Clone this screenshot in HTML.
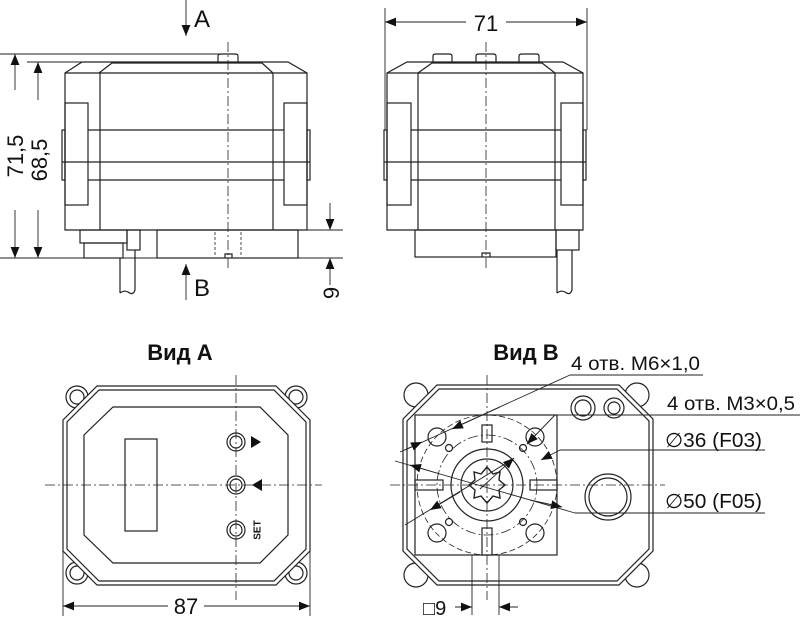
<!DOCTYPE html>
<html><head><meta charset="utf-8"><style>
html,body{margin:0;padding:0;background:#fff;}
svg{display:block;}
text{font-family:"Liberation Sans Narrow","Liberation Sans",sans-serif;fill:#111;}
</style></head><body>
<svg width="800" height="620" viewBox="0 0 800 620" xmlns="http://www.w3.org/2000/svg">
<defs>
<marker id="ar" viewBox="0 0 10 10" refX="10" refY="5" markerWidth="11" markerHeight="11" markerUnits="userSpaceOnUse" orient="auto"><path d="M0,1 L10,5 L0,9 z" fill="#111"/></marker>
</defs>
<g fill="none" stroke="#222" stroke-width="1.2">
<!-- FRONT VIEW -->
<path d="M65,73 L82,62 L288,62 L307,73 L307,230 L65,230 Z" fill="#fff"/>
<line x1="65" y1="73" x2="307" y2="73"/>
<path d="M99,73 L112,63 L262,63 L273,73"/>
<line x1="100" y1="73" x2="100" y2="230"/><line x1="273" y1="73" x2="273" y2="230"/>
<path d="M218,62 L218,56 Q218,54 221,54 L235,54 Q238,54 238,56 L238,62"/>
<rect x="65" y="103" width="23" height="102"/><rect x="284" y="103" width="23" height="102"/>
<rect x="62" y="130" width="3" height="50"/><rect x="307" y="130" width="3" height="50"/>
<line x1="88" y1="130" x2="284" y2="130"/><line x1="62" y1="162" x2="310" y2="162"/><line x1="88" y1="180" x2="284" y2="180"/>
<rect x="80" y="230" width="47" height="13"/><rect x="84" y="243" width="39" height="15"/>
<rect x="127" y="230" width="13" height="20"/>
<path d="M120,258 L120,293 M135,250 L135,290 Q133,296 128,292 Q124,290 120,293"/>
<rect x="157" y="230" width="141" height="28"/>
<line x1="215" y1="232" x2="215" y2="257" stroke-dasharray="3,2" stroke-width="0.8"/>
<line x1="241" y1="232" x2="241" y2="257" stroke-dasharray="3,2" stroke-width="0.8"/>
<path d="M225,258 L225,254 L232,254 L232,258"/>
<line x1="228" y1="42" x2="228" y2="270" stroke-dasharray="10,3,2,3" stroke-width="0.8"/>
<g stroke-width="0.9">
<line x1="0" y1="54" x2="228" y2="54"/><line x1="27" y1="62" x2="82" y2="62"/>
<line x1="0" y1="258" x2="343" y2="258"/>
<line x1="15" y1="90" x2="15" y2="54" marker-end="url(#ar)"/><line x1="15" y1="210" x2="15" y2="258" marker-end="url(#ar)"/>
<line x1="38" y1="100" x2="38" y2="62" marker-end="url(#ar)"/><line x1="38" y1="210" x2="38" y2="258" marker-end="url(#ar)"/>
<line x1="298" y1="230" x2="343" y2="230"/>
<line x1="330" y1="203" x2="330" y2="230" marker-end="url(#ar)"/><line x1="330" y1="285" x2="330" y2="258" marker-end="url(#ar)"/>
<line x1="186" y1="0" x2="186" y2="36" marker-end="url(#ar)"/>
<line x1="186" y1="300" x2="186" y2="264" marker-end="url(#ar)"/>
</g>
<!-- SIDE VIEW -->
<path d="M387,73 L407,62 L563,62 L583,73 L583,230 L387,230 Z" fill="#fff"/>
<line x1="387" y1="73" x2="583" y2="73"/>
<path d="M418,73 L432,63 L542,63 L555,73"/>
<line x1="418" y1="73" x2="418" y2="230"/><line x1="555" y1="73" x2="555" y2="230"/>
<path d="M433,62 L433,56 Q433,54 436,54 L449,54 Q452,54 452,56 L452,62"/>
<path d="M476,62 L476,56 Q476,54 479,54 L493,54 Q496,54 496,56 L496,62"/>
<path d="M519,62 L519,56 Q519,54 522,54 L536,54 Q539,54 539,56 L539,62"/>
<rect x="387" y="103" width="24" height="102"/><rect x="561" y="103" width="22" height="102"/>
<rect x="384" y="130" width="3" height="50"/><rect x="583" y="130" width="3" height="50"/>
<line x1="411" y1="130" x2="561" y2="130"/><line x1="384" y1="162" x2="586" y2="162"/><line x1="411" y1="180" x2="561" y2="180"/>
<rect x="415" y="230" width="141" height="27"/>
<path d="M482,257 L482,253 L490,253 L490,257"/>
<rect x="556" y="230" width="23" height="20"/>
<path d="M557,250 L557,293 M572,250 L572,290 Q570,296 565,292 Q561,290 557,293"/>
<line x1="486" y1="42" x2="486" y2="270" stroke-dasharray="10,3,2,3" stroke-width="0.8"/>
<g stroke-width="0.9">
<line x1="385" y1="8" x2="385" y2="130"/><line x1="587" y1="8" x2="587" y2="130"/>
<line x1="466" y1="22" x2="385" y2="22" marker-end="url(#ar)"/><line x1="506" y1="22" x2="587" y2="22" marker-end="url(#ar)"/>
</g>
<!-- VIEW A -->
<circle cx="77" cy="397" r="11"/><circle cx="77" cy="397" r="7"/>
<circle cx="296" cy="397" r="11"/><circle cx="296" cy="397" r="7"/>
<circle cx="77" cy="573" r="11"/><circle cx="77" cy="573" r="7"/>
<circle cx="296" cy="573" r="11"/><circle cx="296" cy="573" r="7"/>
<path d="M97,386 L276,386 L310,420 L310,551 L276,585 L97,585 L63,551 L63,420 Z" fill="#fff"/>
<path d="M99,390 L274,390 L306,422 L306,549 L274,581 L99,581 L67,549 L67,422 Z"/>
<path d="M113,407 L260,407 L288,435 L288,535 L260,563 L113,563 L84,535 L84,435 Z"/>
<rect x="125" y="439" width="32" height="92"/>
<circle cx="236" cy="442" r="9"/><circle cx="236" cy="442" r="6"/>
<circle cx="236" cy="485" r="9"/><circle cx="236" cy="485" r="6"/>
<circle cx="236" cy="530" r="9"/><circle cx="236" cy="530" r="6"/>
<path d="M251,436 L261,442 L251,448 Z" fill="#111" stroke="none"/>
<path d="M262,479 L252,485 L262,491 Z" fill="#111" stroke="none"/>
<g stroke-dasharray="10,3,2,3" stroke-width="0.8"><line x1="236" y1="375" x2="236" y2="600"/><line x1="45" y1="485" x2="322" y2="485"/></g>
<g stroke-width="0.9">
<line x1="63" y1="551" x2="63" y2="616"/><line x1="310" y1="551" x2="310" y2="616"/>
<line x1="168" y1="606" x2="63" y2="606" marker-end="url(#ar)"/><line x1="204" y1="606" x2="310" y2="606" marker-end="url(#ar)"/>
</g>
<!-- VIEW B -->
<circle cx="416" cy="395" r="12"/><circle cx="637" cy="395" r="12"/>
<circle cx="416" cy="575" r="12"/><circle cx="637" cy="575" r="12"/>
<path d="M437,385 L619,385 L653,419 L653,551 L619,585 L437,585 L403,551 L403,419 Z" fill="#fff"/>
<path d="M439,389 L617,389 L649,421 L649,549 L617,581 L439,581 L407,549 L407,421 Z"/>
<rect x="415" y="415" width="142" height="140"/>
<circle cx="487" cy="485" r="70" stroke-dasharray="6,3" stroke-width="0.8"/>
<circle cx="487" cy="485" r="50" stroke-dasharray="10,3,2,3" stroke-width="0.8"/>
<circle cx="487" cy="485" r="36"/><circle cx="487" cy="485" r="26"/>
<path d="M487,467 L493,474 L500,472 L499,480 L505,485 L499,490 L500,498 L493,496 L487,503 L481,496 L474,498 L475,490 L469,485 L475,480 L474,472 L481,474 Z" stroke-width="1.4"/>
<rect x="482" y="425" width="10" height="17"/><rect x="482" y="528" width="10" height="27"/>
<rect x="415" y="480" width="28" height="10"/><rect x="530" y="480" width="27" height="10"/>
<circle cx="437" cy="437" r="9"/><circle cx="535" cy="437" r="9"/><circle cx="437" cy="533" r="9"/><circle cx="535" cy="533" r="9"/>
<circle cx="449" cy="448" r="3.5"/><circle cx="523" cy="448" r="3.5"/><circle cx="449" cy="522" r="3.5"/><circle cx="523" cy="522" r="3.5"/>
<circle cx="583" cy="408" r="12"/><circle cx="583" cy="408" r="8"/>
<circle cx="614" cy="408" r="10"/><circle cx="614" cy="408" r="6"/>
<circle cx="608" cy="497" r="23"/><circle cx="608" cy="497" r="19"/>
<g stroke-dasharray="10,3,2,3" stroke-width="0.8"><line x1="487" y1="375" x2="487" y2="600"/><line x1="390" y1="485" x2="665" y2="485"/></g>
<g stroke-width="0.9">
<line x1="570" y1="375" x2="703" y2="375"/>
<line x1="570" y1="375" x2="405" y2="450"/>
<line x1="500" y1="407" x2="452" y2="429" marker-end="url(#ar)"/>
<line x1="400" y1="452" x2="422" y2="442" marker-end="url(#ar)"/>
<line x1="555" y1="415" x2="800" y2="415"/>
<line x1="555" y1="415" x2="527" y2="444" marker-end="url(#ar)"/>
<line x1="560" y1="450" x2="765" y2="450"/>
<line x1="560" y1="450" x2="541" y2="460" marker-end="url(#ar)"/>
<line x1="405" y1="525" x2="513" y2="459"/>
<line x1="480" y1="489" x2="514" y2="458" marker-end="url(#ar)"/>
<line x1="460" y1="492" x2="430" y2="510" marker-end="url(#ar)"/>
<line x1="575" y1="513" x2="765" y2="513"/>
<line x1="575" y1="513" x2="395" y2="461"/>
<line x1="530" y1="500" x2="562" y2="507" marker-end="url(#ar)"/>
<line x1="440" y1="474" x2="410" y2="465" marker-end="url(#ar)"/>
<line x1="472" y1="555" x2="472" y2="615"/><line x1="499" y1="555" x2="499" y2="615"/>
<line x1="455" y1="607" x2="472" y2="607" marker-end="url(#ar)"/>
<line x1="518" y1="607" x2="499" y2="607" marker-end="url(#ar)"/>
</g>
</g>
<!-- TEXT -->
<g font-size="22">
<text x="194" y="27" font-size="24">A</text>
<text x="194" y="296" font-size="24">B</text>
<text x="23" y="156" transform="rotate(-90 23 156)" text-anchor="middle">71,5</text>
<text x="47" y="160" transform="rotate(-90 47 160)" text-anchor="middle">68,5</text>
<text x="339" y="293" transform="rotate(-90 339 293)" text-anchor="middle">9</text>
<text x="486" y="31" text-anchor="middle">71</text>
<text x="186" y="614" text-anchor="middle">87</text>
<text x="180" y="360" text-anchor="middle" font-weight="bold">Вид А</text>
<text x="526" y="360" text-anchor="middle" font-weight="bold">Вид В</text>
<text x="571" y="370" font-size="19" textLength="129" lengthAdjust="spacingAndGlyphs">4 отв. M6×1,0</text>
<text x="667" y="410" font-size="19" textLength="128" lengthAdjust="spacingAndGlyphs">4 отв. M3×0,5</text>
<text x="665" y="447" font-size="20" textLength="97" lengthAdjust="spacingAndGlyphs">∅36 (F03)</text>
<text x="665" y="508" font-size="20" textLength="97" lengthAdjust="spacingAndGlyphs">∅50 (F05)</text>
<text x="423" y="615" font-size="20">□9</text>
</g>
<text x="258" y="530" font-size="10" font-weight="bold" transform="rotate(-90 258 530)" text-anchor="middle" dominant-baseline="middle">SET</text>
</svg>
</body></html>
